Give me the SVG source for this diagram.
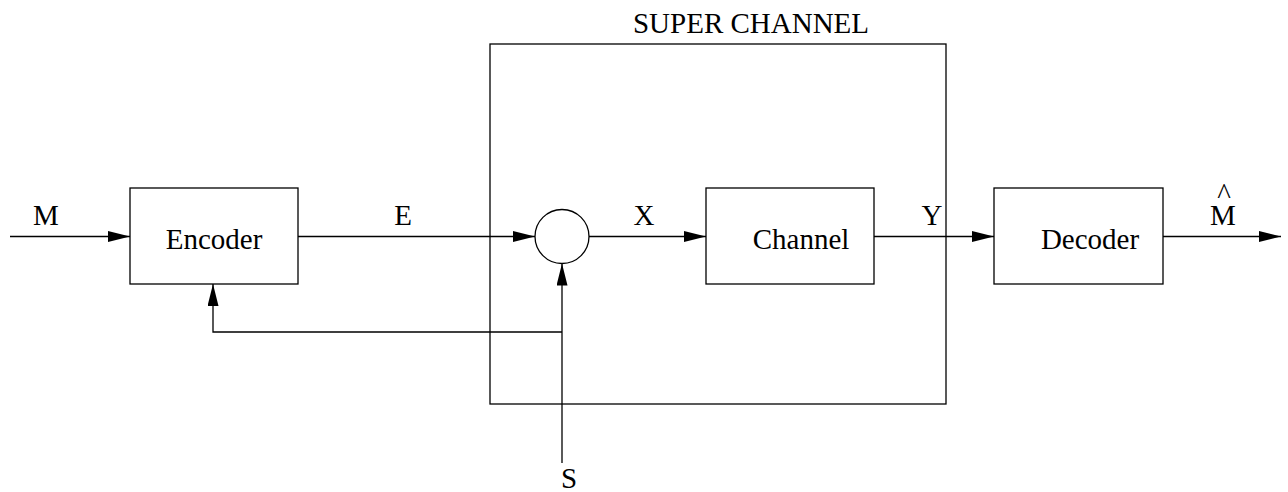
<svg xmlns="http://www.w3.org/2000/svg" width="1288" height="492" viewBox="0 0 1288 492">
<style>
.b{fill:none;stroke:#000;stroke-width:1.3}
.l{fill:none;stroke:#000;stroke-width:1.3}
text{font-family:"Liberation Serif","Times New Roman",serif;font-size:29px;fill:#000;text-anchor:middle}
</style>
<defs>
<marker id="a" markerWidth="22" markerHeight="11" refX="22" refY="5.5" orient="auto" markerUnits="userSpaceOnUse">
<path d="M0,0 L22,5.5 L0,11 Z" fill="#000"/>
</marker>
</defs>
<rect width="1288" height="492" fill="#fff"/>
<g id="superchannel">
<rect class="b" x="490" y="44" width="456" height="360"/>
<text x="751" y="33">SUPER CHANNEL</text>
</g>
<g id="encoder">
<rect class="b" x="130" y="188" width="168" height="96"/>
<text x="214" y="249">Encoder</text>
</g>
<g id="adder">
<circle class="b" cx="562" cy="236.5" r="27"/>
</g>
<g id="channel">
<rect class="b" x="706" y="188" width="168" height="96"/>
<text x="801" y="249">Channel</text>
</g>
<g id="decoder">
<rect class="b" x="994" y="188" width="169" height="96"/>
<text x="1090" y="249">Decoder</text>
</g>
<g id="connectors">
<line class="l" x1="10" y1="236.5" x2="130" y2="236.5" marker-end="url(#a)"/>
<line class="l" x1="298" y1="236.5" x2="535" y2="236.5" marker-end="url(#a)"/>
<line class="l" x1="589" y1="236.5" x2="706" y2="236.5" marker-end="url(#a)"/>
<line class="l" x1="874" y1="236.5" x2="994" y2="236.5" marker-end="url(#a)"/>
<line class="l" x1="1163" y1="236.5" x2="1281" y2="236.5" marker-end="url(#a)"/>
<line class="l" x1="562" y1="463" x2="562" y2="263.5" marker-end="url(#a)"/>
<polyline class="l" points="562,332 213,332 213,284" marker-end="url(#a)"/>
</g>
<g id="labels">
<text x="46" y="225">M</text>
<text x="403" y="225">E</text>
<text x="644" y="225">X</text>
<text x="932" y="225">Y</text>
<text><tspan x="1224" y="204">^</tspan><tspan x="1223" y="225">M</tspan></text>
<text x="569" y="488">S</text>
</g>
</svg>
